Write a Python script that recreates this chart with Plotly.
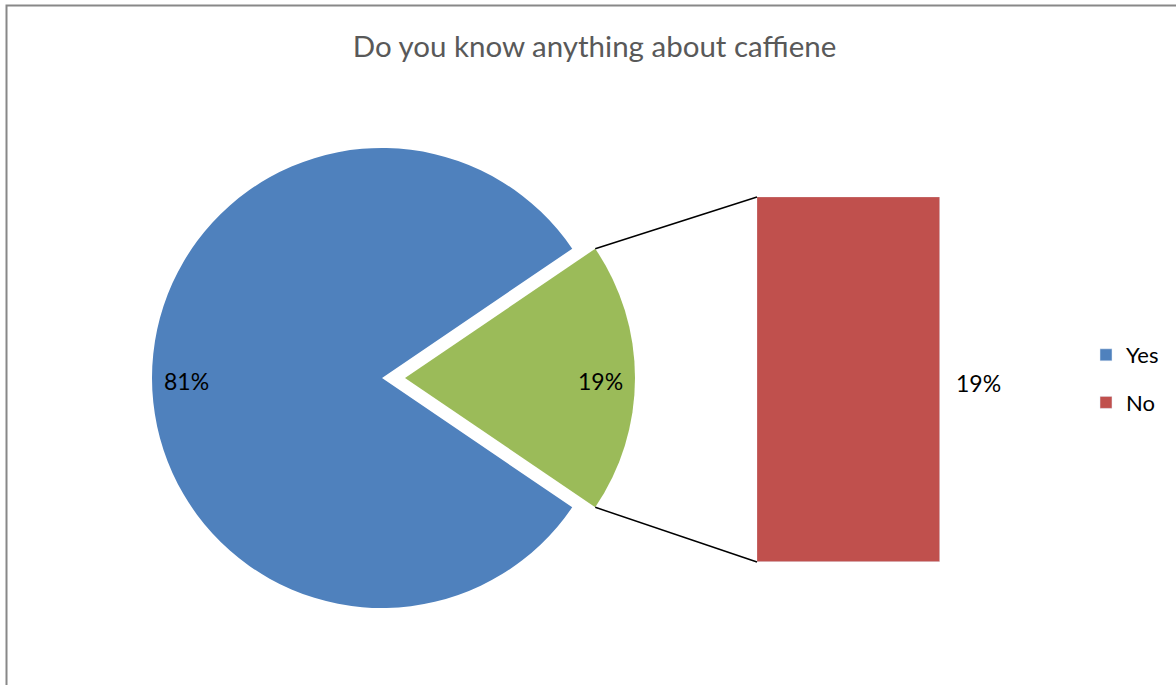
import math
import plotly.graph_objects as go

# Survey answers (percent)
pie_labels = ["No", "Yes"]
pie_values = [19, 81]
bar_labels = ["No"]
bar_values = [19]
legend_names = ["Yes", "No"]

BLUE = "#4F81BD"
GREEN = "#9BBB59"
RED = "#C0504D"
FONT = "Lato, Open Sans, sans-serif"

W, H = 1176, 685

# Pie placement (pixels) and explode fraction of the "No" slice
cx, cy, r = 382, 378, 230
pull = 0.1
half = r * (1 + pull)
pie_dom_x = [(cx - half) / W, (cx + half) / W]
pie_dom_y = [1 - (cy + half) / H, 1 - (cy - half) / H]

# Bar placement (pixels)
bar_left, bar_right, bar_top, bar_bottom = 757, 940, 197, 562

total = sum(pie_values)
half_angle = pie_values[0] / total * 360 / 2  # "No" slice centred at 3 o'clock

fig = go.Figure()

fig.add_trace(go.Pie(
    labels=pie_labels,
    values=pie_values,
    sort=False,
    direction="clockwise",
    rotation=90 - half_angle,
    pull=[pull, 0],
    marker=dict(colors=[GREEN, BLUE], line=dict(width=0)),
    textinfo="none",
    hoverinfo="label+percent",
    showlegend=False,
    domain=dict(x=pie_dom_x, y=pie_dom_y),
))

# Legend-only entry for "Yes"
fig.add_trace(go.Bar(
    x=["No"], y=[None], name=legend_names[0], marker_color=BLUE,
    legendgroup="a", xaxis="x", yaxis="y",
))
fig.add_trace(go.Bar(
    x=bar_labels, y=bar_values, name=legend_names[1], marker_color=RED,
    legendgroup="b", xaxis="x", yaxis="y", hoverinfo="x+y",
))

# Connector lines from the exploded slice corners to the bar corners
a = math.radians(half_angle)
tip_x = cx + pull * r
up_corner = (tip_x + r * math.cos(a), cy - r * math.sin(a))
dn_corner = (tip_x + r * math.cos(a), cy + r * math.sin(a))

def px_to_paper(x, y):
    return x / W, 1 - y / H

shapes = []
for (sx, sy), (ex, ey) in [(up_corner, (bar_left, bar_top)), (dn_corner, (bar_left, bar_bottom))]:
    x0, y0 = px_to_paper(sx, sy)
    x1, y1 = px_to_paper(ex, ey)
    shapes.append(dict(type="line", xref="paper", yref="paper", x0=x0, y0=y0, x1=x1, y1=y1,
                       line=dict(color="black", width=1.5)))

# Chart-area frame
shapes.append(dict(type="rect", xref="paper", yref="paper",
                   x0=6.5 / W, y0=-0.1, x1=1.1, y1=1 - 5.5 / H,
                   line=dict(color="#888888", width=2), fillcolor="rgba(0,0,0,0)"))

# Percentage labels
LABEL_SIZE = 23
label_r = 0.85 * r
annotations = []
yes_pct = f"{round(pie_values[1] / total * 100)}%"
no_pct = f"{round(pie_values[0] / total * 100)}%"
lx, ly = px_to_paper(cx - label_r, cy + 3)
annotations.append(dict(x=lx, y=ly, xref="paper", yref="paper", text=yes_pct, showarrow=False,
                        xanchor="center", yanchor="middle",
                        font=dict(size=LABEL_SIZE, color="black", family=FONT)))
gx, gy = px_to_paper(tip_x + label_r, cy + 3)
annotations.append(dict(x=gx, y=gy, xref="paper", yref="paper", text=no_pct, showarrow=False,
                        xanchor="center", yanchor="middle",
                        font=dict(size=LABEL_SIZE, color="black", family=FONT)))
annotations.append(dict(x=bar_labels[0], y=bar_values[0] / 2, xref="x", yref="y",
                        text=f"{bar_values[0]}%", showarrow=False, xanchor="left", xshift=105,
                        yshift=-3, font=dict(size=LABEL_SIZE, color="black", family=FONT)))

fig.update_layout(
    width=W, height=H,
    margin=dict(l=0, r=0, t=0, b=0),
    paper_bgcolor="white", plot_bgcolor="white",
    title=dict(text="Do you know anything about caffiene", x=594.5 / W, xanchor="center",
               y=1 - 47 / H, yanchor="middle",
               font=dict(size=29.5, color="#595959", family=FONT)),
    xaxis=dict(domain=[bar_left / W, bar_right / W], visible=False, range=[-0.5, 0.5],
               fixedrange=True),
    yaxis=dict(domain=[1 - bar_bottom / H, 1 - bar_top / H], visible=False,
               range=[0, bar_values[0]], fixedrange=True),
    barmode="overlay",
    bargap=0,
    showlegend=True,
    legend=dict(x=1086 / W, y=1 - 334 / H, xanchor="left", yanchor="top",
                font=dict(size=22, color="black", family=FONT),
                tracegroupgap=16, itemwidth=30, bgcolor="rgba(0,0,0,0)"),
    shapes=shapes,
    annotations=annotations,
)

fig.write_html("out.html")
